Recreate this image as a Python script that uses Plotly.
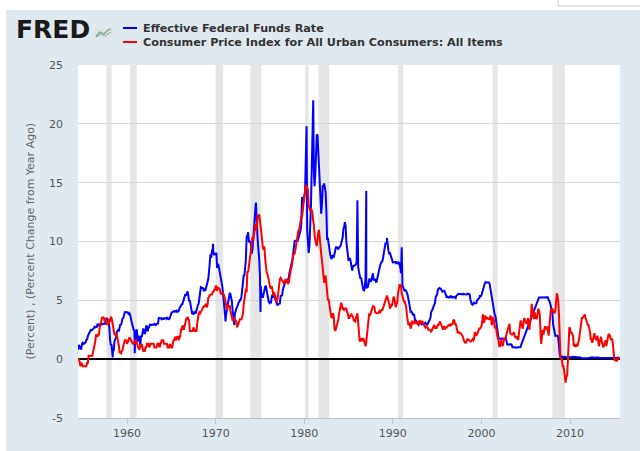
import pandas as pd
import plotly.graph_objects as go

# ---------------- data ----------------
# Effective Federal Funds Rate, monthly, starting 1954-07
fed_funds = [
    0.80, 1.22, 1.06, 0.85, 0.83, 1.28,
    1.39, 1.29, 1.35, 1.43, 1.43, 1.64, 1.68, 1.96, 2.18, 2.24, 2.35, 2.48,
    2.45, 2.50, 2.50, 2.62, 2.75, 2.71, 2.75, 2.73, 2.95, 2.96, 2.88, 2.94,
    2.84, 3.00, 2.96, 3.00, 3.00, 3.00, 2.99, 3.24, 3.47, 3.50, 3.28, 2.98,
    2.72, 1.67, 1.20, 1.26, 0.63, 0.93, 0.68, 1.53, 1.76, 1.80, 2.27, 2.42,
    2.48, 2.43, 2.80, 2.96, 2.90, 3.39, 3.47, 3.50, 3.76, 3.98, 4.00, 3.99,
    3.99, 3.97, 3.84, 3.92, 3.85, 3.32, 3.23, 2.98, 2.60, 2.47, 2.44, 1.98,
    1.45, 2.54, 2.02, 1.49, 1.98, 1.73, 1.17, 2.00, 1.88, 2.26, 2.61, 2.33,
    2.15, 2.37, 2.85, 2.78, 2.36, 2.68, 2.71, 2.93, 2.90, 2.90, 2.94, 2.93,
    2.92, 3.00, 2.98, 2.90, 3.00, 2.99, 3.02, 3.49, 3.48, 3.50, 3.48, 3.38,
    3.48, 3.48, 3.43, 3.47, 3.50, 3.50, 3.42, 3.50, 3.45, 3.36, 3.52, 3.85,
    3.90, 3.98, 4.04, 4.09, 4.10, 4.04, 4.09, 4.12, 4.01, 4.08, 4.10, 4.32,
    4.42, 4.60, 4.65, 4.67, 4.90, 5.17, 5.30, 5.53, 5.40, 5.53, 5.76, 5.40,
    4.94, 5.00, 4.53, 4.05, 3.94, 3.98, 3.79, 3.90, 3.99, 3.88, 4.13, 4.51,
    4.61, 4.71, 5.05, 5.76, 6.11, 6.07, 6.02, 6.03, 5.78, 5.91, 5.82, 6.02,
    6.30, 6.61, 6.79, 7.41, 8.67, 8.90, 8.61, 9.19, 9.15, 9.00, 8.85, 8.97,
    8.98, 8.98, 7.76, 8.10, 7.95, 7.61, 7.21, 6.61, 6.29, 6.20, 5.60, 4.90,
    4.14, 3.72, 3.71, 4.16, 4.63, 4.91, 5.31, 5.57, 5.55, 5.20, 4.91, 4.14,
    3.50, 3.29, 3.83, 4.17, 4.27, 4.46, 4.55, 4.80, 4.87, 5.04, 5.06, 5.33,
    5.94, 6.58, 7.09, 7.12, 7.84, 8.49, 10.40, 10.50, 10.78, 10.01, 10.03, 9.95,
    9.65, 8.97, 9.35, 10.51, 11.31, 11.93, 12.92, 12.01, 11.34, 10.06, 9.45, 8.53,
    7.13, 6.24, 5.54, 5.49, 5.22, 5.55, 6.10, 6.14, 6.24, 5.82, 5.22, 5.20,
    4.87, 4.77, 4.84, 4.82, 5.29, 5.48, 5.31, 5.29, 5.25, 5.02, 4.95, 4.65,
    4.61, 4.68, 4.69, 4.73, 5.35, 5.39, 5.42, 5.90, 6.14, 6.47, 6.51, 6.56,
    6.70, 6.78, 6.79, 6.89, 7.36, 7.60, 7.81, 8.04, 8.45, 8.96, 9.76, 10.03,
    10.07, 10.06, 10.09, 10.01, 10.24, 10.29, 10.47, 10.94, 11.43, 13.77, 13.18, 13.78,
    13.82, 14.13, 17.19, 17.61, 10.98, 9.47, 9.03, 9.61, 10.87, 12.81, 15.85, 18.90,
    19.08, 15.93, 14.70, 15.72, 18.52, 19.10, 19.04, 17.82, 15.87, 15.08, 13.31, 12.37,
    13.22, 14.78, 14.68, 14.94, 14.45, 14.15, 12.59, 10.12, 10.31, 9.71, 9.20, 8.95,
    8.68, 8.51, 8.77, 8.80, 8.63, 8.98, 9.37, 9.56, 9.45, 9.48, 9.34, 9.47,
    9.56, 9.59, 9.91, 10.29, 10.32, 11.06, 11.23, 11.64, 11.30, 9.99, 9.43, 8.38,
    8.35, 8.50, 8.58, 8.27, 7.97, 7.53, 7.88, 7.90, 7.92, 7.99, 8.05, 8.27,
    8.14, 7.86, 7.48, 6.99, 6.85, 6.92, 6.56, 6.17, 5.89, 5.85, 6.04, 6.91,
    6.43, 6.10, 6.13, 6.37, 6.85, 6.73, 6.58, 6.73, 7.22, 7.29, 6.69, 6.77,
    6.83, 6.58, 6.58, 6.87, 7.09, 7.51, 7.75, 8.01, 8.19, 8.30, 8.35, 8.76,
    9.12, 9.36, 9.85, 9.84, 9.81, 9.53, 9.24, 8.99, 9.02, 8.84, 8.55, 8.45,
    8.23, 8.24, 8.28, 8.26, 8.18, 8.29, 8.15, 8.13, 8.20, 8.11, 7.81, 7.31,
    6.91, 6.25, 6.12, 5.91, 5.78, 5.90, 5.82, 5.66, 5.45, 5.21, 4.81, 4.43,
    4.03, 4.06, 3.98, 3.73, 3.82, 3.76, 3.25, 3.30, 3.22, 3.10, 3.09, 2.92,
    3.02, 3.03, 3.07, 2.96, 3.00, 3.04, 3.06, 3.03, 3.09, 2.99, 3.02, 2.96,
    3.05, 3.25, 3.34, 3.56, 4.01, 4.25, 4.26, 4.47, 4.73, 4.76, 5.29, 5.45,
    5.53, 5.92, 5.98, 6.05, 6.01, 6.00, 5.85, 5.74, 5.80, 5.76, 5.80, 5.60,
    5.56, 5.22, 5.31, 5.22, 5.24, 5.27, 5.40, 5.22, 5.30, 5.24, 5.31, 5.29,
    5.25, 5.19, 5.39, 5.51, 5.50, 5.56, 5.52, 5.54, 5.54, 5.50, 5.52, 5.50,
    5.56, 5.51, 5.49, 5.45, 5.49, 5.56, 5.54, 5.55, 5.51, 5.07, 4.83, 4.68,
    4.63, 4.76, 4.81, 4.74, 4.74, 4.76, 4.99, 5.07, 5.22, 5.20, 5.42, 5.30,
    5.45, 5.73, 5.85, 6.02, 6.27, 6.53, 6.54, 6.50, 6.52, 6.51, 6.51, 6.40,
    5.98, 5.49, 5.31, 4.80, 4.21, 3.97, 3.77, 3.65, 3.07, 2.49, 2.09, 1.82,
    1.73, 1.74, 1.73, 1.75, 1.75, 1.75, 1.73, 1.74, 1.75, 1.75, 1.34, 1.24,
    1.24, 1.26, 1.25, 1.26, 1.26, 1.22, 1.01, 1.03, 1.01, 1.01, 1.00, 0.98,
    1.00, 1.01, 1.00, 1.00, 1.00, 1.03, 1.26, 1.43, 1.61, 1.76, 1.93, 2.16,
    2.28, 2.50, 2.63, 2.79, 3.00, 3.04, 3.26, 3.50, 3.62, 3.78, 4.00, 4.16,
    4.29, 4.49, 4.59, 4.79, 4.94, 4.99, 5.24, 5.25, 5.25, 5.25, 5.25, 5.24,
    5.25, 5.26, 5.26, 5.25, 5.25, 5.25, 5.26, 5.02, 4.94, 4.76, 4.49, 4.24,
    3.94, 2.98, 2.61, 2.28, 1.98, 2.00, 2.01, 2.00, 1.81, 0.97, 0.39, 0.16,
    0.15, 0.22, 0.18, 0.15, 0.18, 0.21, 0.16, 0.16, 0.15, 0.12, 0.12, 0.12,
    0.11, 0.13, 0.16, 0.20, 0.20, 0.18, 0.18, 0.19, 0.19, 0.19, 0.19, 0.18,
    0.17, 0.16, 0.14, 0.10, 0.09, 0.09, 0.07, 0.10, 0.08, 0.07, 0.08, 0.07,
    0.08, 0.10, 0.13, 0.14, 0.16, 0.16, 0.16, 0.13, 0.14, 0.16, 0.16, 0.16,
    0.14, 0.15, 0.14, 0.15, 0.11, 0.09, 0.09, 0.08, 0.08, 0.09, 0.08, 0.09,
    0.07, 0.07, 0.08, 0.09, 0.09, 0.10, 0.09, 0.09, 0.09, 0.09, 0.09, 0.12,
    0.11, 0.11, 0.11, 0.12, 0.12, 0.13, 0.13, 0.14,
]
fed_funds_start = "1954-07-01"

# short-lived daily spikes / dips visible in the reference
ff_spike_dates = ["1958-05-20", "1960-11-15", "1969-09-15", "1971-02-15",
                  "1972-02-10", "1974-07-20", "1975-01-25", "1980-04-05",
                  "1981-01-05", "1985-12-31", "1986-12-31", "1989-05-01",
                  "1990-12-31"]
ff_spike_values = [0.15, 0.5, 9.8, 3.2, 2.9, 13.3, 4.0, 19.8,
                   22.0, 13.5, 14.3, 10.3, 9.5]

# CPI for All Urban Consumers: All Items, % change from year ago, monthly from 1954-07
cpi_yoy = [
    0.0, -0.0, -0.3, -0.6, -0.3, -0.6,
    -0.6, -0.6, -0.6, -0.6, -0.6, -0.6, -0.3, -0.3, 0.3, 0.3, 0.3, 0.3,
    0.3, 0.3, 0.6, 0.9, 1.2, 1.5, 2.1, 1.9, 1.9, 2.1, 2.1, 2.7,
    2.9, 3.2, 3.5, 3.5, 3.6, 3.3, 3.2, 3.5, 3.2, 2.9, 3.2, 2.9,
    3.4, 3.2, 3.6, 3.5, 3.2, 2.8, 2.5, 2.1, 2.1, 2.1, 2.1, 1.8,
    1.5, 1.1, 0.6, 0.5, 0.5, 0.7, 0.8, 1.1, 1.4, 1.6, 1.6, 1.6,
    1.3, 1.6, 1.6, 1.8, 1.8, 1.7, 1.4, 1.4, 1.3, 1.3, 1.4, 1.4,
    1.7, 1.4, 1.4, 1.0, 0.9, 0.8, 1.3, 1.0, 1.3, 0.7, 0.7, 0.7,
    0.7, 1.0, 1.0, 1.3, 1.3, 1.3, 1.0, 1.3, 1.3, 1.3, 1.3, 1.3,
    1.3, 1.0, 1.0, 1.0, 1.0, 1.3, 1.3, 1.3, 1.0, 1.3, 1.3, 1.6,
    1.6, 1.6, 1.3, 1.3, 1.3, 1.3, 1.3, 1.0, 1.0, 1.0, 1.3, 1.0,
    1.0, 1.0, 1.3, 1.6, 1.6, 1.9, 1.6, 1.9, 1.9, 1.9, 1.6, 1.9,
    1.9, 2.5, 2.5, 2.8, 2.8, 2.5, 2.8, 3.4, 3.4, 3.4, 3.6, 3.4,
    3.3, 2.4, 2.4, 2.4, 2.4, 2.4, 2.7, 2.4, 2.4, 2.4, 2.4, 3.0,
    3.6, 3.9, 4.0, 3.9, 4.0, 4.2, 4.4, 4.4, 4.5, 4.5, 4.6, 4.7,
    4.4, 4.6, 5.2, 5.4, 5.4, 5.5, 5.5, 5.5, 5.7, 5.7, 5.9, 5.9,
    6.2, 6.2, 5.8, 6.1, 6.0, 6.0, 5.9, 5.5, 5.6, 5.6, 5.6, 5.5,
    5.3, 5.0, 4.7, 4.2, 4.4, 4.6, 4.4, 4.6, 4.1, 3.8, 3.3, 3.3,
    3.3, 3.5, 3.4, 3.3, 3.2, 2.7, 2.9, 2.9, 3.2, 3.4, 3.4, 3.4,
    3.6, 3.9, 4.6, 5.1, 5.5, 6.0, 5.7, 7.5, 7.4, 7.8, 8.3, 8.7,
    9.4, 10.0, 10.4, 10.1, 10.7, 10.9, 11.5, 10.9, 11.9, 12.1, 12.2, 12.3,
    11.8, 11.2, 10.3, 10.2, 9.5, 9.3, 9.6, 8.6, 7.8, 7.4, 7.3, 6.9,
    6.8, 6.3, 6.1, 6.0, 6.2, 5.9, 5.4, 5.7, 5.5, 5.3, 4.9, 4.9,
    5.2, 5.9, 6.4, 6.8, 6.9, 6.8, 6.8, 6.7, 6.6, 6.4, 6.7, 6.7,
    6.8, 6.4, 6.4, 6.5, 7.0, 7.4, 7.7, 7.8, 8.3, 8.9, 8.9, 9.0,
    9.3, 9.9, 10.1, 10.5, 10.9, 10.9, 11.3, 11.8, 12.1, 12.1, 12.6, 13.3,
    13.9, 14.2, 14.8, 14.7, 14.4, 14.4, 13.1, 12.9, 12.6, 12.8, 12.7, 12.5,
    11.8, 11.4, 10.5, 10.0, 9.8, 9.6, 10.8, 10.8, 11.0, 10.1, 9.6, 8.9,
    8.4, 7.6, 6.8, 6.5, 6.7, 7.1, 6.4, 5.9, 5.0, 5.1, 4.6, 3.8,
    3.8, 3.5, 3.6, 3.9, 3.6, 2.6, 2.4, 2.6, 2.9, 2.9, 3.3, 3.8,
    4.2, 4.6, 4.8, 4.6, 4.2, 4.3, 4.2, 4.3, 4.3, 4.3, 4.0, 3.9,
    3.5, 3.5, 3.7, 3.7, 3.8, 3.7, 3.6, 3.3, 3.2, 3.2, 3.5, 3.8,
    3.9, 3.1, 2.3, 1.6, 1.5, 1.8, 1.6, 1.6, 1.8, 1.5, 1.3, 1.1,
    1.5, 2.1, 3.0, 3.8, 3.9, 3.7, 3.9, 4.3, 4.3, 4.5, 4.5, 4.4,
    4.0, 3.9, 3.9, 3.9, 3.9, 4.0, 4.1, 4.0, 4.2, 4.2, 4.2, 4.4,
    4.7, 4.8, 5.0, 5.1, 5.4, 5.2, 5.0, 4.7, 4.3, 4.5, 4.6, 4.6,
    5.2, 5.3, 5.2, 4.7, 4.4, 4.7, 4.8, 5.6, 6.2, 6.3, 6.3, 6.2,
    5.6, 5.3, 4.9, 4.9, 4.9, 4.7, 4.5, 3.8, 3.4, 2.9, 3.0, 3.1,
    2.6, 2.8, 3.2, 3.2, 3.0, 3.1, 3.2, 3.1, 3.0, 3.2, 3.1, 2.9,
    3.3, 3.2, 3.1, 3.2, 3.2, 3.0, 2.8, 2.8, 2.7, 2.8, 2.7, 2.7,
    2.5, 2.5, 2.5, 2.4, 2.3, 2.5, 2.7, 2.9, 2.9, 2.6, 2.7, 2.6,
    2.8, 2.9, 2.9, 3.1, 3.2, 3.0, 2.8, 2.6, 2.5, 2.8, 2.6, 2.6,
    2.7, 2.7, 2.8, 2.9, 2.9, 2.8, 3.0, 2.9, 3.0, 3.0, 3.3, 3.3,
    3.0, 3.0, 2.8, 2.5, 2.2, 2.3, 2.2, 2.2, 2.2, 2.1, 1.9, 1.9,
    1.6, 1.4, 1.4, 1.4, 1.7, 1.7, 1.7, 1.6, 1.5, 1.5, 1.5, 1.6,
    1.7, 1.6, 1.7, 2.3, 2.1, 2.0, 2.1, 2.3, 2.6, 2.6, 2.6, 2.7,
    2.8, 3.2, 3.8, 3.1, 3.2, 3.7, 3.6, 3.4, 3.5, 3.4, 3.4, 3.4,
    3.7, 3.5, 2.9, 3.3, 3.6, 3.2, 2.7, 2.7, 2.6, 2.1, 1.9, 1.6,
    1.1, 1.1, 1.5, 1.6, 1.2, 1.1, 1.5, 1.8, 1.6, 2.0, 2.2, 2.4,
    2.6, 3.0, 3.0, 2.2, 2.1, 2.1, 2.1, 2.2, 2.3, 2.0, 1.8, 1.9,
    1.9, 1.7, 1.7, 2.3, 3.1, 3.3, 3.0, 2.7, 2.6, 3.2, 3.5, 3.3,
    3.0, 3.0, 3.1, 3.5, 2.8, 2.5, 3.2, 3.6, 4.7, 4.3, 3.5, 3.4,
    4.0, 3.6, 3.4, 3.5, 4.2, 4.3, 4.1, 3.8, 2.1, 1.3, 2.0, 2.5,
    2.1, 2.4, 2.8, 2.6, 2.7, 2.7, 2.4, 2.0, 2.8, 3.5, 4.3, 4.1,
    4.3, 4.1, 4.0, 3.9, 4.1, 5.0, 5.6, 5.4, 4.9, 3.7, 1.1, 0.1,
    0.0, 0.0, -0.6, -0.6, -1.0, -1.4, -2.0, -1.5, -1.4, -0.2, 1.8, 2.7,
    2.6, 2.2, 2.3, 2.2, 2.0, 1.1, 1.3, 1.1, 1.1, 1.2, 1.1, 1.4,
    1.6, 2.1, 2.6, 3.1, 3.5, 3.5, 3.6, 3.7, 3.8, 3.5, 3.3, 3.0,
    2.9, 2.9, 2.7, 2.3, 1.7, 1.7, 1.4, 1.7, 2.0, 2.2, 1.8, 1.7,
    1.6, 2.0, 1.5, 1.1, 1.4, 1.8, 1.9, 1.5, 1.2, 1.0, 1.2, 1.5,
    1.6, 1.1, 1.5, 2.0, 2.1, 2.1, 2.0, 1.7, 1.7, 1.7, 1.3, 0.8,
    -0.1, 0.0, -0.1, -0.2, 0.0, 0.1, 0.2,
]
cpi_start = "1954-07-01"

# NBER recessions (shaded)
rec_starts = ["1957-09-01", "1960-05-01", "1970-01-01", "1973-12-01", "1980-02-01",
              "1981-08-01", "1990-08-01", "2001-04-01", "2008-01-01"]
rec_ends = ["1958-04-01", "1961-02-01", "1970-11-01", "1975-03-01", "1980-07-01",
            "1982-11-01", "1991-03-01", "2001-11-01", "2009-06-01"]

y_ticks = [-5, 0, 5, 10, 15, 20, 25]
x_ticks = ["1960", "1970", "1980", "1990", "2000", "2010"]

series_names = ["Effective Federal Funds Rate",
                "Consumer Price Index for All Urban Consumers: All Items"]
y_title = "(Percent) , (Percent Change from Year Ago)"

# ---------------- build series ----------------
ff = pd.Series(fed_funds, index=pd.date_range(fed_funds_start, periods=len(fed_funds), freq="MS"))
ff = pd.concat([ff, pd.Series(ff_spike_values, index=pd.to_datetime(ff_spike_dates))]).sort_index()
cpi = pd.Series(cpi_yoy, index=pd.date_range(cpi_start, periods=len(cpi_yoy), freq="MS"))

# ---------------- layout geometry ----------------
W, H = 640, 451
ML, MR, MT, MB = 78, 20, 65, 33
PW, PH = W - ML - MR, H - MT - MB


def px(x):
    return (x - ML) / PW


def py(y):
    return (H - MB - y) / PH


PANEL = "#e1e9f0"
BLUE = "#0000ff"
RED = "#ff0000"

fig = go.Figure()
fig.add_trace(go.Scatter(x=ff.index, y=ff.values, mode="lines", name=series_names[0],
                         line=dict(color=BLUE, width=2), showlegend=False))
fig.add_trace(go.Scatter(x=cpi.index, y=cpi.values, mode="lines", name=series_names[1],
                         line=dict(color=RED, width=2), showlegend=False))

shapes = []
for s, e in zip(rec_starts, rec_ends):
    shapes.append(dict(type="rect", xref="x", yref="paper", x0=s, x1=e, y0=0, y1=1,
                       fillcolor="#e6e6e6", line=dict(width=0), layer="below"))

# white page strips outside the FRED panel
shapes.append(dict(type="rect", xref="paper", yref="paper", x0=px(-5), x1=px(650),
                   y0=py(10), y1=py(-5), fillcolor="white", line=dict(width=0), layer="above"))
shapes.append(dict(type="rect", xref="paper", yref="paper", x0=px(-5), x1=px(6),
                   y0=py(460), y1=py(-5), fillcolor="white", line=dict(width=0), layer="above"))
shapes.append(dict(type="rect", xref="paper", yref="paper", x0=px(558), x1=px(660),
                   y0=py(6), y1=py(-5), fillcolor="white", line=dict(width=1, color="#cccccc"),
                   layer="above"))

# FRED logo icon
shapes.append(dict(type="rect", xref="paper", yref="paper", x0=px(94), x1=px(113),
                   y0=py(38), y1=py(28), fillcolor="#dfe5e2", line=dict(width=0), layer="above"))
icon_path = "M {} {} L {} {} L {} {} L {} {} L {} {}".format(
    px(96), py(36), px(100), py(32), px(104), py(34), px(108), py(30), px(111), py(29))
shapes.append(dict(type="path", xref="paper", yref="paper", path=icon_path,
                   line=dict(color="#7aa57a", width=1.2), layer="above"))
icon_path2 = "M {} {} L {} {} L {} {} L {} {}".format(
    px(96), py(37), px(101), py(34), px(105), py(36), px(111), py(32))
shapes.append(dict(type="path", xref="paper", yref="paper", path=icon_path2,
                   line=dict(color="#8aa0c0", width=1), layer="above"))

# legend line samples
leg_y = [28, 42]
leg_col = [BLUE, RED]
for yy, cc in zip(leg_y, leg_col):
    shapes.append(dict(type="line", xref="paper", yref="paper", x0=px(123), x1=px(137),
                       y0=py(yy), y1=py(yy), line=dict(color=cc, width=2), layer="above"))

annotations = [
    dict(text="<b>FRED</b>", xref="paper", yref="paper", x=px(14), y=py(30),
         xanchor="left", yanchor="middle", showarrow=False,
         font=dict(family="DejaVu Sans", size=25, color="#1a1a1a")),
    dict(text=y_title, xref="paper", yref="paper", x=px(30), y=0.5, textangle=-90,
         xanchor="center", yanchor="middle", showarrow=False,
         font=dict(family="DejaVu Sans", size=11, color="#666666")),
]
for yy, name in zip(leg_y, series_names):
    annotations.append(dict(text="<b>" + name + "</b>", xref="paper", yref="paper",
                            x=px(141), y=py(yy), xanchor="left", yanchor="middle",
                            showarrow=False,
                            font=dict(family="DejaVu Sans", size=11.2, color="#333333")))

fig.update_layout(
    width=W, height=H,
    margin=dict(l=ML, r=MR, t=MT, b=MB),
    paper_bgcolor=PANEL, plot_bgcolor="white",
    font=dict(family="DejaVu Sans", size=11, color="#555555"),
    shapes=shapes, annotations=annotations,
    showlegend=False,
)
fig.update_xaxes(
    type="date", range=["1954-06-20", "2015-08-20"],
    tickvals=[x + "-01-01" for x in x_ticks], ticktext=x_ticks,
    showgrid=False, zeroline=False,
    showline=True, linecolor="#b8c8d8", linewidth=1,
    ticks="outside", ticklen=5, tickcolor="#b8c8d8",
    tickfont=dict(family="DejaVu Sans", size=11, color="#555555"),
)
fig.update_yaxes(
    range=[-5, 25], tickvals=y_ticks, ticktext=[str(v) for v in y_ticks],
    showgrid=True, gridcolor="#d8d8d8", gridwidth=1,
    zeroline=True, zerolinecolor="#000000", zerolinewidth=1.5,
    showline=False, ticks="", ticklabelstandoff=14,
    tickfont=dict(family="DejaVu Sans", size=11, color="#555555"),
)

fig.write_html("out.html",
               config={"displayModeBar": False},
               post_script="document.body.style.margin='0';document.body.style.overflow='hidden';")
